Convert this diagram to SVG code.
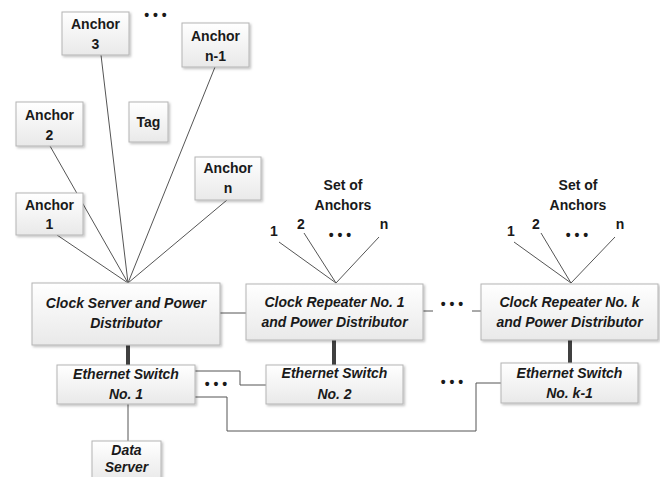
<svg xmlns="http://www.w3.org/2000/svg" width="660" height="477" viewBox="0 0 660 477">
<defs>
<linearGradient id="g" x1="0" y1="0" x2="0" y2="1">
<stop offset="0" stop-color="#ffffff"/>
<stop offset="1" stop-color="#e9e9e9"/>
</linearGradient>
<filter id="sh" x="-10%" y="-10%" width="130%" height="140%">
<feDropShadow dx="1.5" dy="1.5" stdDeviation="1" flood-color="#000" flood-opacity="0.25"/>
</filter>
</defs>
<style>
.box{fill:url(#g);stroke:#b4b4b4;stroke-width:1;filter:url(#sh)}
text{font-family:"Liberation Sans",Arial,sans-serif;font-weight:bold;font-size:14px;fill:#1a1a1a;text-anchor:middle}
.it{font-style:italic}
.ln{stroke:#555;stroke-width:1;fill:none}
.thick{stroke:#404040;stroke-width:4;fill:none}
</style>
<rect width="660" height="477" fill="#fff"/>
<g id="connectors">
<line class="ln" x1="101" y1="55" x2="128" y2="283"/>
<line class="ln" x1="50" y1="146" x2="128" y2="283"/>
<line class="ln" x1="57" y1="235" x2="128" y2="283"/>
<line class="ln" x1="215" y1="67" x2="128" y2="283"/>
<line class="ln" x1="227" y1="200" x2="128" y2="283"/>
<line class="ln" x1="279" y1="242" x2="336" y2="283"/>
<line class="ln" x1="304" y1="233" x2="336" y2="283"/>
<line class="ln" x1="379" y1="237" x2="336" y2="283"/>
<line class="ln" x1="514" y1="242" x2="571" y2="283"/>
<line class="ln" x1="541" y1="233" x2="571" y2="283"/>
<line class="ln" x1="615" y1="237" x2="571" y2="283"/>
<line class="ln" x1="220" y1="313" x2="246" y2="313"/>
<line class="ln" x1="423" y1="311" x2="433" y2="311"/>
<line class="ln" x1="472" y1="311" x2="481" y2="311"/>
<line class="thick" x1="128" y1="345" x2="128" y2="365"/>
<line class="thick" x1="334" y1="340" x2="334" y2="365"/>
<line class="thick" x1="570" y1="340" x2="570" y2="363"/>
<line class="ln" x1="128" y1="404" x2="128" y2="441"/>
<polyline class="ln" points="195,371 240,371 240,385 266,385"/>
<polyline class="ln" points="195,397 227,397 227,431 476,431 476,383 501,383"/>
</g>
<g id="anchor3"><rect class="box" x="62" y="12" width="67" height="43"/><text x="95.5" y="29">Anchor</text><text x="95.5" y="49">3</text></g>
<g id="anchorn1"><rect class="box" x="182" y="23" width="67" height="44"/><text x="215.5" y="41">Anchor</text><text x="215.5" y="61">n-1</text></g>
<g id="anchor2"><rect class="box" x="16" y="102" width="67" height="44"/><text x="49.5" y="120">Anchor</text><text x="49.5" y="140">2</text></g>
<g id="tag"><rect class="box" x="129" y="102" width="39" height="40"/><text x="148.5" y="127">Tag</text></g>
<g id="anchorn"><rect class="box" x="195" y="157" width="66" height="43"/><text x="228" y="173">Anchor</text><text x="228" y="193">n</text></g>
<g id="anchor1"><rect class="box" x="16" y="193" width="67" height="42"/><text x="49.5" y="210">Anchor</text><text x="49.5" y="229">1</text></g>
<g id="topdots"><text x="155.5" y="20">• • •</text></g>
<g id="set1"><text x="343" y="190">Set of</text><text x="343" y="210">Anchors</text><text x="274" y="236">1</text><text x="301" y="229">2</text><text x="340" y="240">• • •</text><text x="384" y="229">n</text></g>
<g id="set2"><text x="578" y="190">Set of</text><text x="578" y="210">Anchors</text><text x="511" y="236">1</text><text x="536" y="229">2</text><text x="577" y="240">• • •</text><text x="620" y="229">n</text></g>
<g id="clockserver"><rect class="box" x="32" y="283" width="188" height="62"/><text class="it" x="126" y="308">Clock Server and Power</text><text class="it" x="126" y="328">Distributor</text></g>
<g id="repeater1"><rect class="box" x="246" y="284" width="177" height="56"/><text class="it" x="334.5" y="307">Clock Repeater No. 1</text><text class="it" x="334.5" y="327">and Power Distributor</text></g>
<g id="repeaterk"><rect class="box" x="481" y="284" width="177" height="56"/><text class="it" x="569.5" y="307">Clock Repeater No. k</text><text class="it" x="569.5" y="327">and Power Distributor</text></g>
<g id="repdots"><text x="452" y="309">• • •</text></g>
<g id="switch1"><rect class="box" x="57" y="365" width="138" height="39"/><text class="it" x="126" y="379">Ethernet Switch</text><text class="it" x="126" y="399">No. 1</text></g>
<g id="switch2"><rect class="box" x="266" y="365" width="137" height="39"/><text class="it" x="334.5" y="378">Ethernet Switch</text><text class="it" x="334.5" y="399">No. 2</text></g>
<g id="switchk1"><rect class="box" x="501" y="363" width="137" height="40"/><text class="it" x="569.5" y="378">Ethernet Switch</text><text class="it" x="569.5" y="398">No. k-1</text></g>
<g id="swdots1"><text x="216" y="389">• • •</text></g>
<g id="swdots2"><text x="452" y="387">• • •</text></g>
<g id="dataserver"><rect class="box" x="92" y="441" width="69" height="40"/><text class="it" x="126.5" y="455">Data</text><text class="it" x="126.5" y="472">Server</text></g>
</svg>
